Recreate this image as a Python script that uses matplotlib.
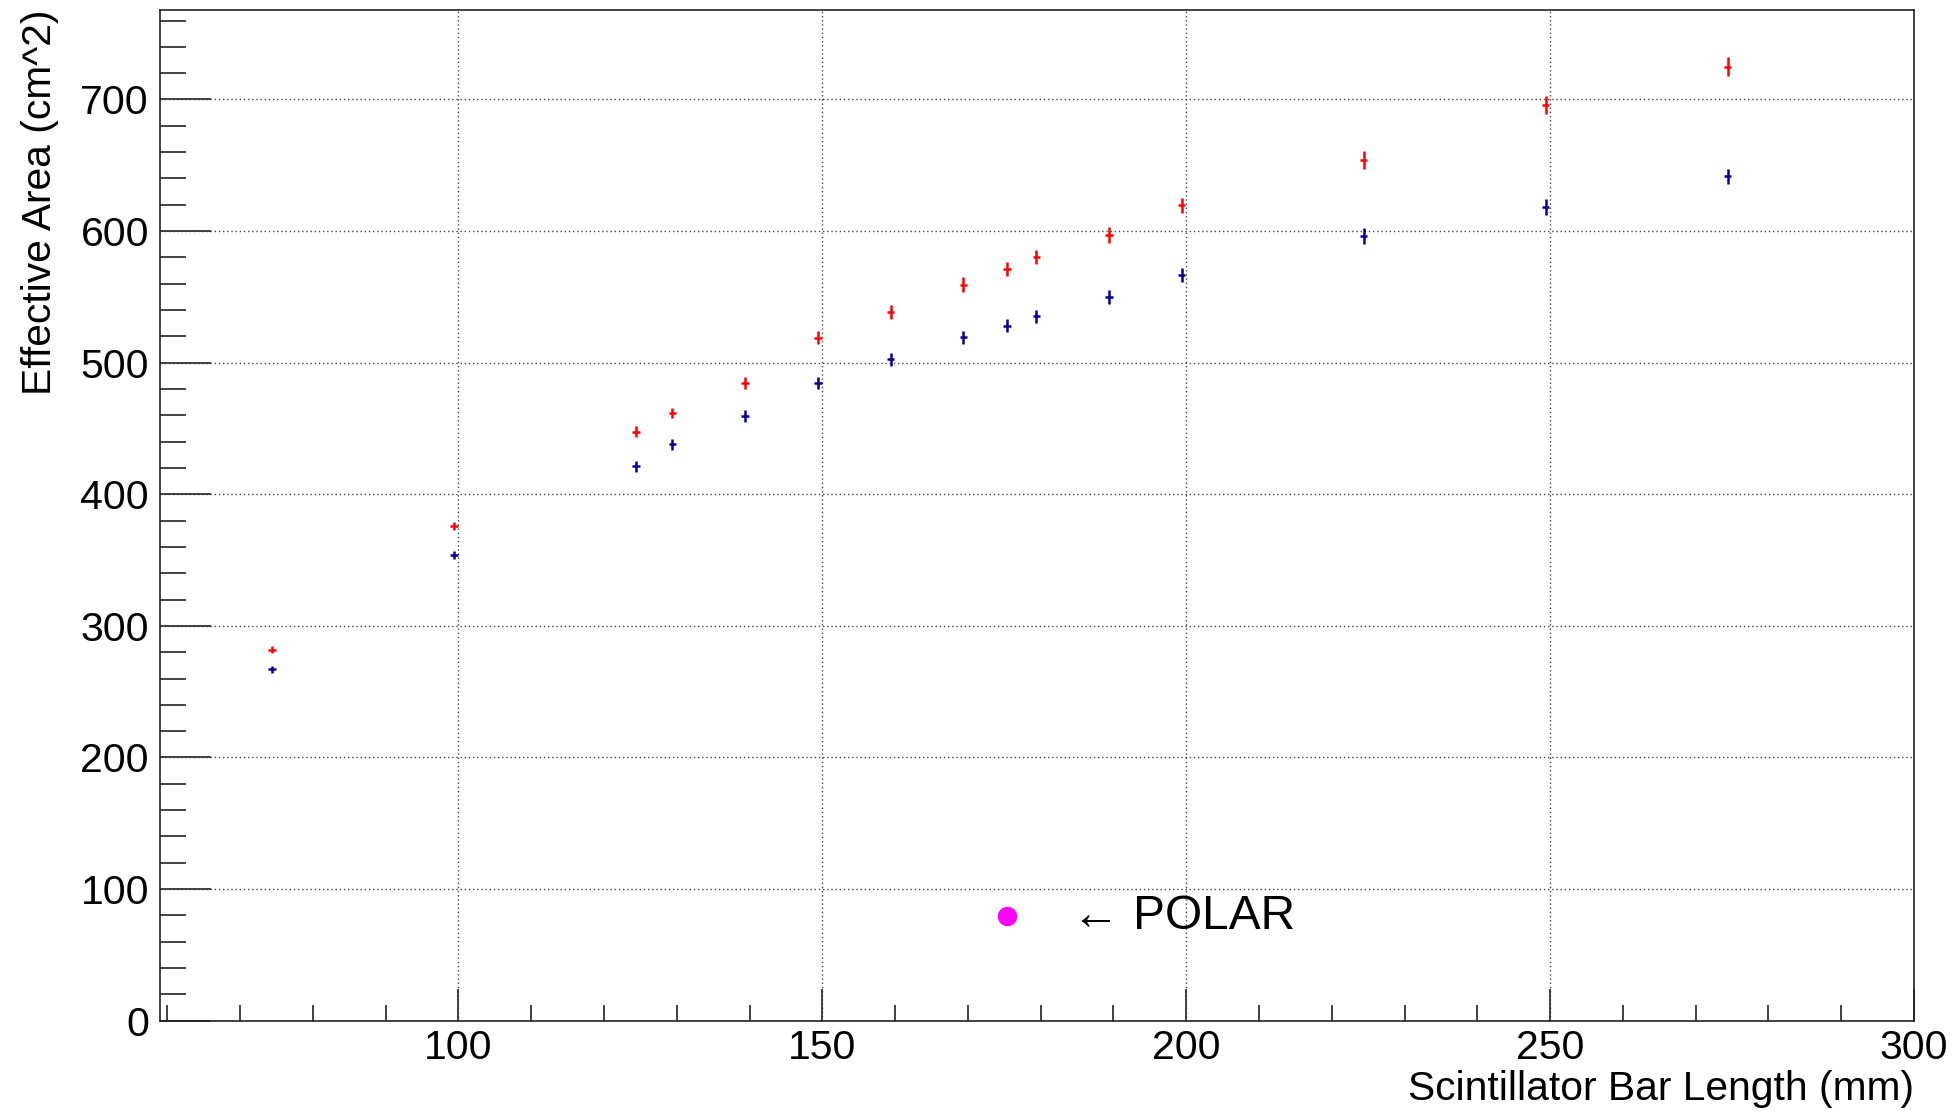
import matplotlib
matplotlib.use("Agg")
import matplotlib.pyplot as plt
from matplotlib.ticker import MultipleLocator

plt.rcParams['font.family'] = ['Liberation Sans', 'DejaVu Sans']

# Bar lengths (mm) and effective areas (cm^2) for the two configurations
bar_length = [74.4, 99.4, 124.4, 129.4, 139.4, 149.4, 159.4, 169.4, 175.4,
              179.4, 189.4, 199.4, 224.4, 249.4, 274.4]
length_err = [0.5] * len(bar_length)

area_red = [282, 376, 447.6, 461.7, 484.5, 519, 538.5, 559.3, 571,
            580.5, 597, 619.5, 654, 696, 725]
err_red = [2.5, 3, 4, 4, 4.5, 5, 5, 5.5, 5.5, 5.5, 6, 6, 6.5, 7, 7]

area_blue = [267, 353.7, 421.2, 437.9, 459.7, 484.5, 502.5, 519.3, 528,
             535.4, 550, 566.8, 596, 618.3, 641.5]
err_blue = [2.5, 3, 4, 4, 4.5, 4.5, 5, 5, 5, 5, 5.5, 5.5, 6, 6, 6]

polar_length = [175.4]
polar_area = [79.6]

fig = plt.figure(figsize=(19.56, 11.11), dpi=100)
ax = fig.add_axes([0.0818, 0.0813, 0.8967, 0.9097])

ax.errorbar(bar_length, area_red, xerr=length_err, yerr=err_red, fmt='none',
            ecolor='#ff0000', elinewidth=1.8, capsize=0, zorder=3)
ax.errorbar(bar_length, area_blue, xerr=length_err, yerr=err_blue, fmt='none',
            ecolor='#000099', elinewidth=1.8, capsize=0, zorder=3)
ax.plot(polar_length, polar_area, 'o', color='#ff00ff', markersize=14,
        markeredgewidth=0, zorder=4)
ax.text(184.3, 69.8, '\u2190 POLAR', fontsize=34.5, ha='left', va='baseline',
        family=['Liberation Sans', 'DejaVu Sans'])

ax.set_xlim(59, 300)
ax.set_ylim(0, 768)

ax.xaxis.set_major_locator(MultipleLocator(50))
ax.xaxis.set_minor_locator(MultipleLocator(10))
ax.yaxis.set_major_locator(MultipleLocator(100))
ax.yaxis.set_minor_locator(MultipleLocator(20))

ax.tick_params(axis='both', which='both', direction='in', top=False,
               right=False, colors='#333333', labelcolor='black',
               labelsize=29.5, width=1.3)
ax.tick_params(axis='y', which='major', length=37, pad=8)
ax.tick_params(axis='y', which='minor', length=18.5)
ax.tick_params(axis='x', which='major', length=23, pad=6)
ax.tick_params(axis='x', which='minor', length=11.5)

ax.grid(True, which='major', linestyle=(0, (1, 2)), color='#444444',
        linewidth=1.0)
ax.set_axisbelow(True)

for sp in ax.spines.values():
    sp.set_linewidth(1.2)
    sp.set_color('#222222')

ax.set_xlabel('Scintillator Bar Length (mm)', fontsize=29.3, loc='right',
              labelpad=2)
ax.set_ylabel('Effective Area (cm^2)', fontsize=29.3, loc='top', labelpad=15)

fig.savefig('out.png', dpi=100, facecolor='white')
